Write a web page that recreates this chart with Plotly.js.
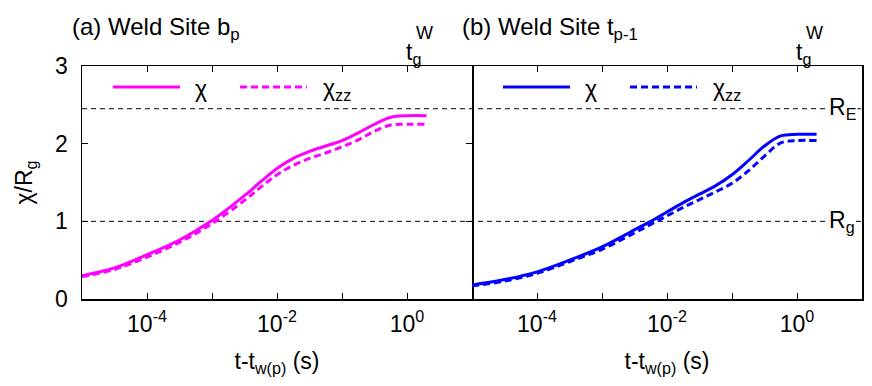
<!DOCTYPE html>
<html>
<head>
<meta charset="utf-8">
<script src="https://cdn.plot.ly/plotly-3.0.1.min.js"></script>
<style>
  body { margin: 0; background: #fff; }
  #chart { width: 872px; height: 386px; }
</style>
</head>
<body>
<div id="chart"></div>
<script>
'use strict';

// t - t_w(p) in seconds, read at half-decade steps (quarter decades where the curves bend)
const time_s = [1e-5, 3.16e-5, 1e-4, 3.16e-4, 1e-3, 3.16e-3, 5.62e-3, 1e-2, 1.78e-2, 3.16e-2, 5.62e-2,
                0.1, 0.178, 0.316, 0.562, 1, 2];

// (a) weld site b_p
const chi_bp   = [0.30, 0.40, 0.57, 0.76, 1.01, 1.33, 1.51, 1.68, 1.81, 1.90, 1.97, 2.04, 2.14, 2.25, 2.34, 2.36, 2.36];
const chizz_bp = [0.29, 0.38, 0.54, 0.73, 0.97, 1.27, 1.44, 1.60, 1.72, 1.81, 1.88, 1.96, 2.05, 2.16, 2.24, 2.25, 2.25];

// (b) weld site t_p-1
const chi_tp   = [0.18, 0.25, 0.35, 0.50, 0.67, 0.89, 1.00, 1.12, 1.24, 1.35, 1.46, 1.60, 1.78, 1.97, 2.10, 2.12, 2.12];
const chizz_tp = [0.17, 0.23, 0.33, 0.48, 0.64, 0.85, 0.96, 1.07, 1.18, 1.28, 1.38, 1.49, 1.65, 1.84, 2.01, 2.04, 2.04];

// reference levels (in units of R_g) and the weld time t_g^W
const ref_levels = [1, 2.45];
const ref_names  = ['R<sub>g</sub>', 'R<sub>E</sub>'];
const t_gW = 1;

const tick_vals = [1e-5, 1e-4, 1e-3, 1e-2, 1e-1, 1, 10];
const tick_text = ['', '10<sup>-4</sup>', '', '10<sup>-2</sup>', '', '10<sup>0</sup>', ''];
const y_ticks = [0, 1, 2, 3];

const panel_titles = ['(a) Weld Site b<sub>p</sub>', '(b) Weld Site t<sub>p-1</sub>'];
const colors = ['#ff00ff', '#0000ff'];

const FONT = 'Liberation Sans, Arial, sans-serif';
const FS = 23;
const DASH = '7px,4px';
const REF_DASH = '5px,4px';

function curve(y, color, dashed, xa, ya){
    return {
        x: time_s, y: y,
        xaxis: xa, yaxis: ya,
        type: 'scatter', mode: 'lines',
        line: {color: color, width: 3, dash: dashed ? DASH : 'solid', shape: 'spline', smoothing: 1},
        showlegend: false, hoverinfo: 'skip'
    };
}

var traces = [
    curve(chi_bp,   colors[0], false, 'x',  'y'),
    curve(chizz_bp, colors[0], true,  'x',  'y'),
    curve(chi_tp,   colors[1], false, 'x2', 'y2'),
    curve(chizz_tp, colors[1], true,  'x2', 'y2')
];

function xaxis(domain, anchor){
    return {
        type: 'log', domain: domain, anchor: anchor,
        range: [-5, 1],
        tickvals: tick_vals, ticktext: tick_text,
        ticks: 'inside', ticklen: 6, tickwidth: 1, tickcolor: '#000',
        ticklabelstandoff: 4,
        showline: true, linecolor: '#000', linewidth: 1.5, mirror: 'ticks',
        showgrid: false, zeroline: false,
        tickfont: {family: FONT, size: FS, color: '#000'},
        title: {text: 't-t<sub>w(p)</sub> (s)', font: {family: FONT, size: FS, color: '#000'}, standoff: 17}
    };
}

var layout = {
    width: 872, height: 386,
    margin: {l: 82, r: 10, t: 66, b: 87},
    paper_bgcolor: '#fff', plot_bgcolor: '#fff',
    font: {family: FONT, size: FS, color: '#000'},
    xaxis: xaxis([0, 0.5], 'y'),
    xaxis2: xaxis([0.5, 1], 'y2'),
    yaxis: {
        range: [0, 3], tickvals: y_ticks,
        ticks: 'inside', ticklen: 6, tickwidth: 1, tickcolor: '#000',
        ticklabelstandoff: 8,
        showline: true, linecolor: '#000', linewidth: 1.5, mirror: 'ticks',
        showgrid: false, zeroline: false,
        tickfont: {family: FONT, size: FS, color: '#000'},
        title: {text: '\u03c7/R<sub>g</sub>', font: {family: FONT, size: FS, color: '#000'}, standoff: 16}
    },
    yaxis2: {
        range: [0, 3], anchor: 'x2', matches: 'y', side: 'right',
        ticks: '', showticklabels: false,
        showline: true, linecolor: '#000', linewidth: 1.5, mirror: false,
        showgrid: false, zeroline: false
    },
    shapes: [],
    annotations: []
};

// dashed reference levels across both panels
ref_levels.forEach(function(v){
    layout.shapes.push({type: 'line', xref: 'paper', yref: 'y', x0: 0, x1: 1, y0: v, y1: v,
        layer: 'below', line: {color: '#000', width: 1, dash: REF_DASH}});
});

// t_g^W marker in each panel
['x', 'x2'].forEach(function(xr, i){
    layout.shapes.push({type: 'line', xref: xr, yref: 'paper', x0: Math.log10(t_gW), x1: Math.log10(t_gW), y0: 0, y1: 1,
        layer: 'below', line: {color: '#000', width: 1, dash: REF_DASH}});
    layout.annotations.push({xref: xr, yref: 'paper', x: Math.log10(t_gW), y: 1, xanchor: 'left', yanchor: 'bottom',
        xshift: -3, yshift: -4, showarrow: false, text: 't<sub>g</sub>', font: {size: FS}});
    layout.annotations.push({xref: xr, yref: 'paper', x: Math.log10(t_gW), y: 1, xanchor: 'left', yanchor: 'bottom',
        xshift: 7, yshift: 21, showarrow: false, text: 'W', font: {size: 18}});
    layout.annotations.push({xref: 'paper', yref: 'paper', x: i * 0.5 - 0.016, y: 1.16, xanchor: 'left', yanchor: 'middle',
        showarrow: false, text: panel_titles[i], font: {size: 24}});

    // legend samples
    var off = i * 0.5;
    layout.shapes.push({type: 'line', xref: 'paper', yref: 'paper', x0: off + 0.0397, x1: off + 0.1256, y0: 0.91, y1: 0.91,
        line: {color: colors[i], width: 3}});
    layout.shapes.push({type: 'line', xref: 'paper', yref: 'paper', x0: off + 0.2026, x1: off + 0.2885, y0: 0.91, y1: 0.91,
        line: {color: colors[i], width: 3, dash: DASH}});
    layout.annotations.push({xref: 'paper', yref: 'paper', x: off + 0.142, y: 0.90, xanchor: 'left', yanchor: 'middle',
        showarrow: false, text: '\u03c7', font: {size: FS}});
    layout.annotations.push({xref: 'paper', yref: 'paper', x: off + 0.306, y: 0.90, xanchor: 'left', yanchor: 'middle',
        showarrow: false, text: '\u03c7<sub>zz</sub>', font: {size: FS}});
});

// labels for the reference levels, right panel (white box hides the dashed line behind them)
ref_levels.forEach(function(v, i){
    layout.annotations.push({xref: 'x2', yref: 'y2', x: 0.47, y: v, xanchor: 'left', yanchor: 'middle',
        showarrow: false, text: ref_names[i], font: {size: FS}, bgcolor: '#fff', borderpad: 0});
});

Plotly.newPlot('chart', traces, layout, {displayModeBar: false, staticPlot: true});
</script>
</body>
</html>
